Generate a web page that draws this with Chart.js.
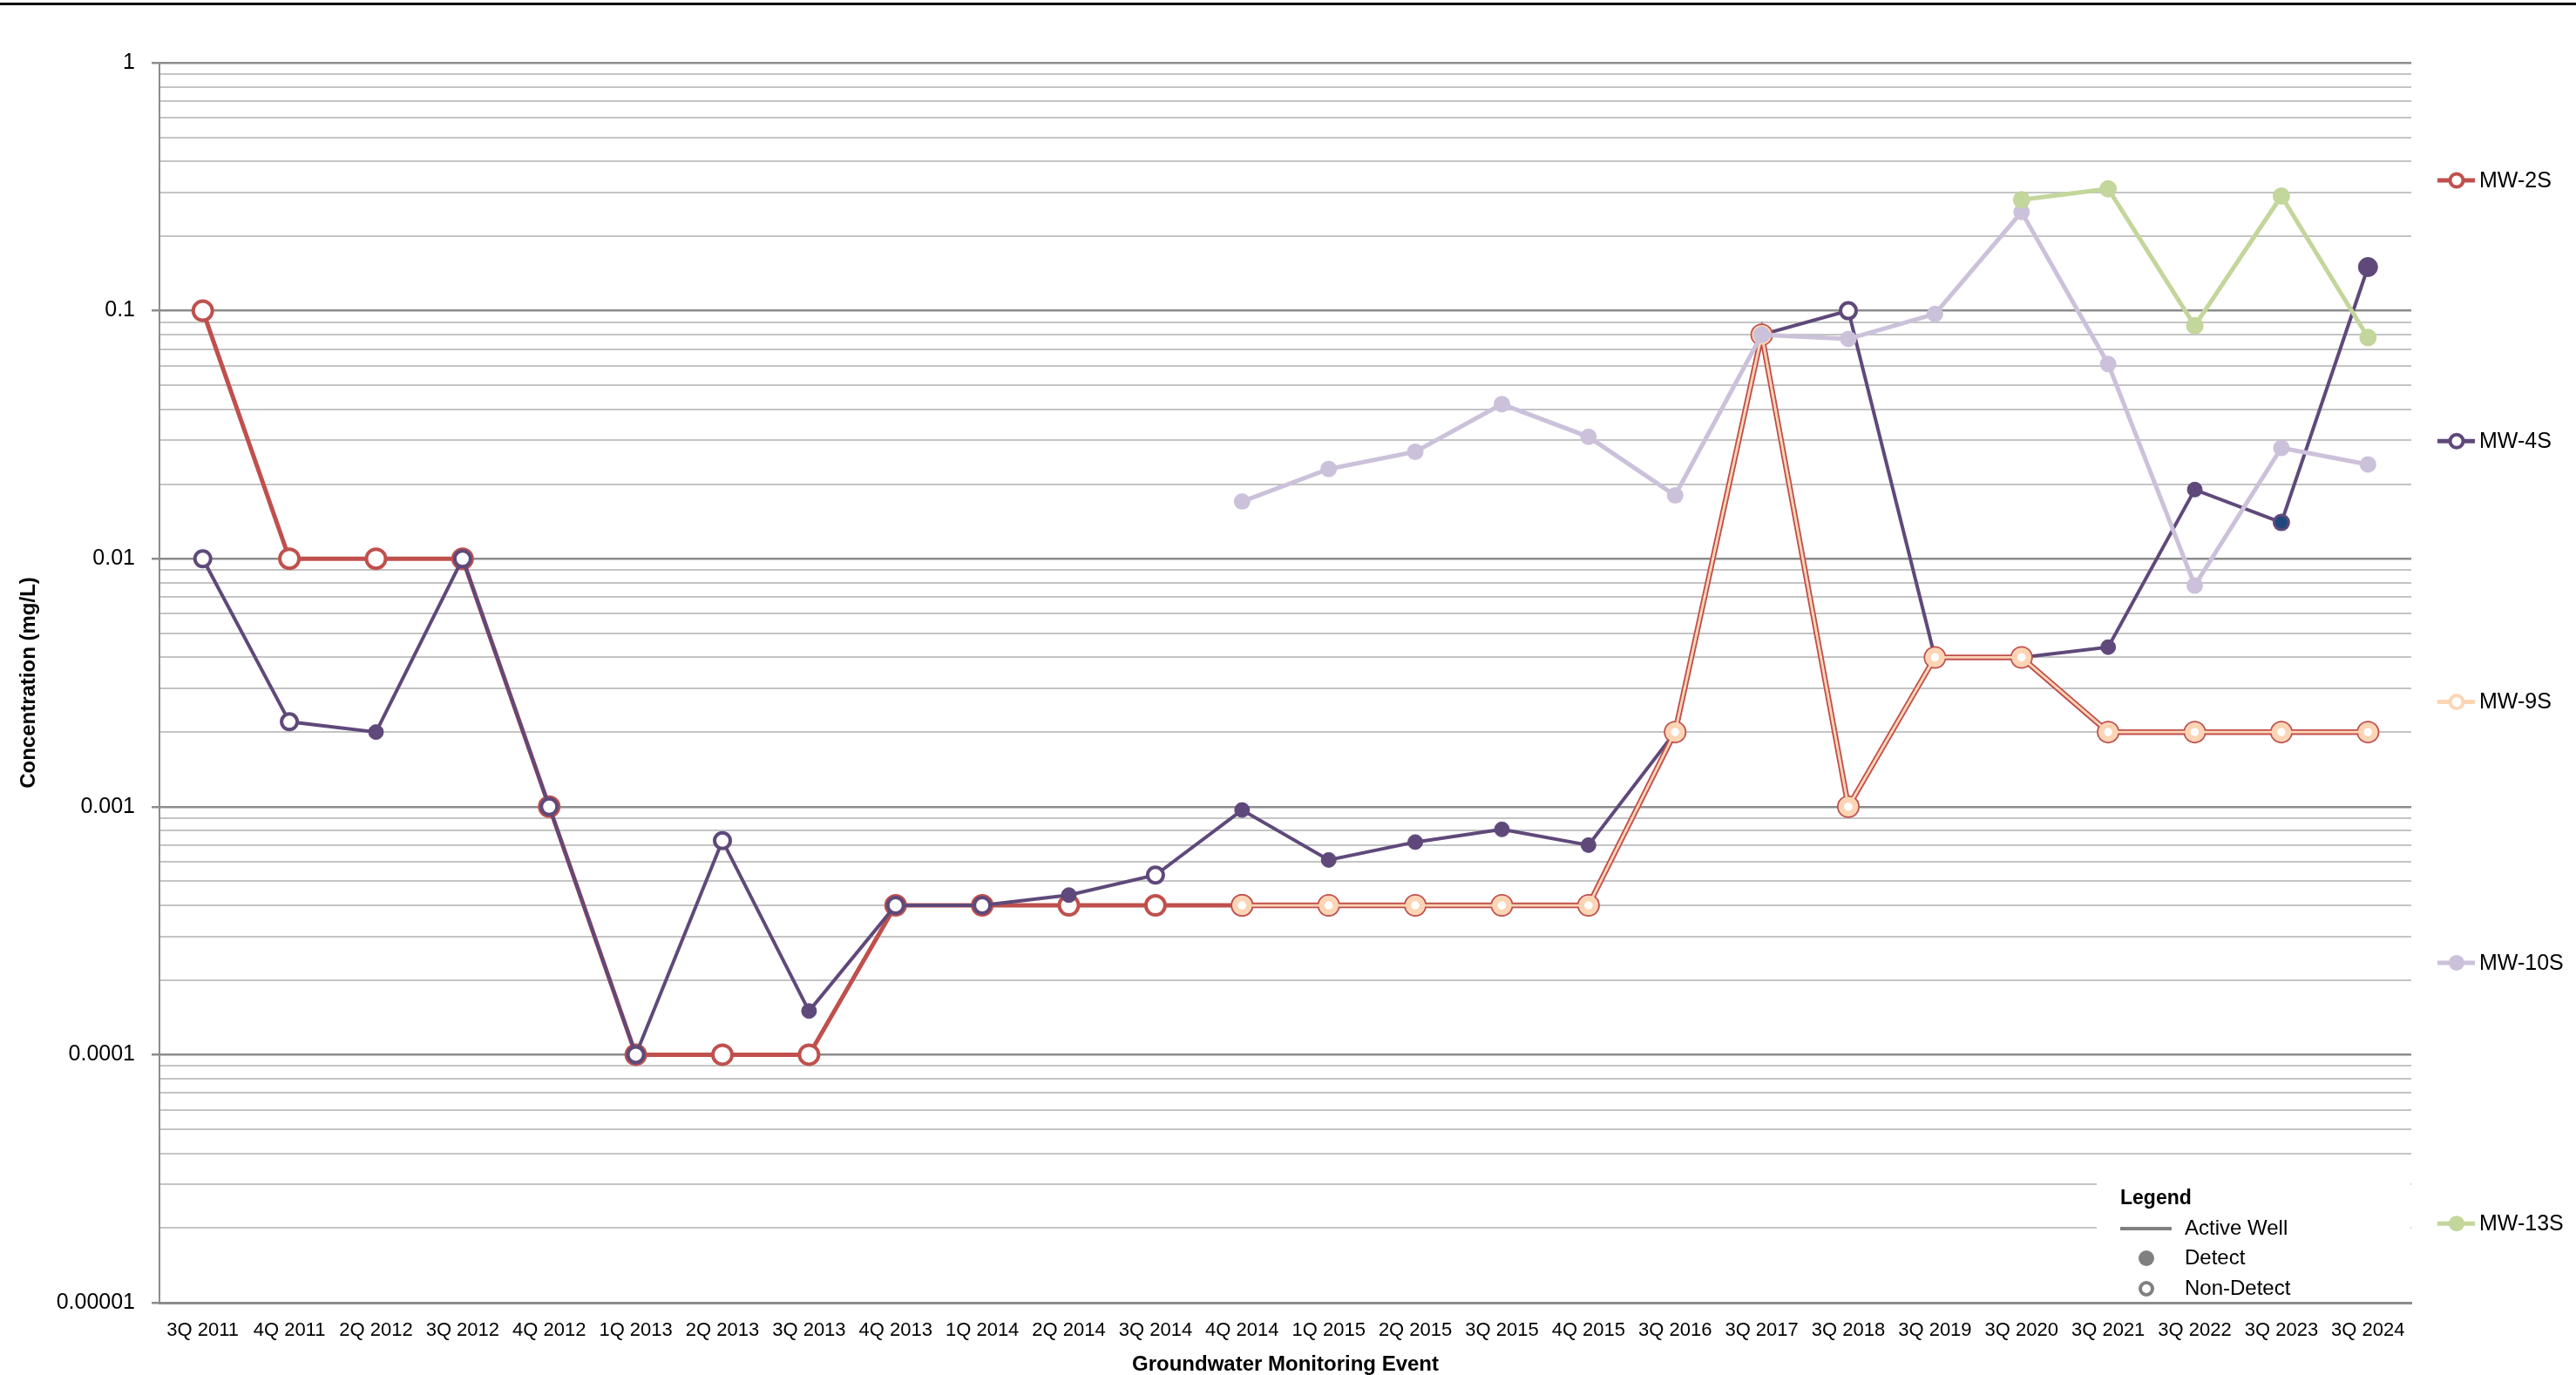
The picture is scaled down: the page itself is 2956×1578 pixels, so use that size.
<!DOCTYPE html>
<html><head><meta charset="utf-8">
<script src="https://cdn.jsdelivr.net/npm/chart.js@4"></script>
<style>html,body{margin:0;padding:0;background:#fff;overflow:hidden}#wrap{width:2956px;height:1578px}</style>
</head><body><div id="wrap"><canvas id="c" width="2956" height="1578"></canvas></div>
<script>
const categories = ['3Q 2011','4Q 2011','2Q 2012','3Q 2012','4Q 2012','1Q 2013','2Q 2013','3Q 2013','4Q 2013','1Q 2014','2Q 2014','3Q 2014','4Q 2014','1Q 2015','2Q 2015','3Q 2015','4Q 2015','3Q 2016','3Q 2017','3Q 2018','3Q 2019','3Q 2020','3Q 2021','3Q 2022','3Q 2023','3Q 2024'];
const seriesNames = ['MW-2S','MW-4S','MW-9S','MW-10S','MW-13S'];
const mw2s = [0.1,0.01,0.01,0.01,0.001,0.0001,0.0001,0.0001,0.0004,0.0004,0.0004,0.0004,0.0004,null,null,null,null,null,null,null,null,null,null,null,null,null];
const mw2sDetect = [0,0,0,0,0,0,0,0,0,0,0,0,0,0,0,0,0,0,0,0,0,0,0,0,0,0];
const mw4s = [0.01,0.0022,0.002,0.01,0.001,0.0001,0.00073,0.00015,0.0004,0.0004,0.00044,0.00053,0.00097,0.00061,0.00072,0.00081,0.0007,0.002,0.08,0.1,0.004,0.004,0.0044,0.019,0.014,0.15];
const mw4sDetect = [0,0,1,0,0,0,0,1,0,0,1,0,1,1,1,1,1,0,0,0,0,0,1,1,1,1];
const mw9s = [null,null,null,null,null,null,null,null,null,null,null,null,0.0004,0.0004,0.0004,0.0004,0.0004,0.002,0.08,0.001,0.004,0.004,0.002,0.002,0.002,0.002];
const mw9sDetect = [0,0,0,0,0,0,0,0,0,0,0,0,0,0,0,0,0,0,0,0,0,0,0,0,0,0];
const mw10s = [null,null,null,null,null,null,null,null,null,null,null,null,0.017,0.023,0.027,0.042,0.031,0.018,0.08,0.077,0.097,0.25,0.061,0.0078,0.028,0.024];
const mw13s = [null,null,null,null,null,null,null,null,null,null,null,null,null,null,null,null,null,null,null,null,null,0.28,0.31,0.087,0.29,0.078];
const yDecades = [0.00001,0.0001,0.001,0.01,0.1,1];
const yTickLabels = ['0.00001','0.0001','0.001','0.01','0.1','1'];
const legendItems = ['Active Well','Detect','Non-Detect'];
const legendTitle = 'Legend';
const xTitle = 'Groundwater Monitoring Event';
const yTitle = 'Concentration (mg/L)';

const RED='#C0504D', PURPLE='#5F497A', PEACH='#FCD5B5', LAV='#CCC1DA', GREEN='#C3D69B', NAVY='#1F497D', GREY='#808080';
const FONT='"Liberation Sans", Arial, sans-serif';

const hollowFill = (flags, col) => flags.map(f => f ? col : '#ffffff');

const decoPlugin = {
  id:'deco',
  beforeDraw(chart){
    const c=chart.ctx; c.save();
    c.fillStyle='#fff'; c.fillRect(0,0,chart.width,chart.height);
    c.fillStyle='#000'; c.fillRect(0,3,chart.width,3);
    c.restore();
  },
  beforeDatasetsDraw(chart){
    const c=chart.ctx, a=chart.chartArea; c.save();
    const L=a.right-361, T=a.bottom-157;
    c.fillStyle='#fff'; c.fillRect(L,T,a.right-L-1,a.bottom-3-T);
    c.fillStyle='#000'; c.textBaseline='middle'; c.textAlign='left';
    c.font='bold 23px '+FONT; c.fillText(legendTitle,L+27,T+38);
    c.font='24px '+FONT;
    c.strokeStyle=GREY; c.lineWidth=4; c.beginPath(); c.moveTo(L+27,T+72); c.lineTo(L+86,T+72); c.stroke();
    c.fillText(legendItems[0],L+101,T+72);
    c.fillStyle=GREY; c.beginPath(); c.arc(L+57,T+106,9,0,Math.PI*2); c.fill();
    c.fillStyle='#000'; c.fillText(legendItems[1],L+101,T+106);
    c.strokeStyle=GREY; c.lineWidth=4; c.fillStyle='#fff'; c.beginPath(); c.arc(L+57,T+141,7,0,Math.PI*2); c.fill(); c.stroke();
    c.fillStyle='#000'; c.fillText(legendItems[2],L+101,T+141);
    c.restore();
  },
  afterDraw(chart){
    const c=chart.ctx; c.save();
    const styles=[
      {line:RED, fill:'#fff', stroke:RED, bw:4},
      {line:PURPLE, fill:'#fff', stroke:PURPLE, bw:4},
      {line:PEACH, fill:'#fff', stroke:PEACH, bw:4},
      {line:LAV, fill:LAV, stroke:LAV, bw:0},
      {line:GREEN, fill:GREEN, stroke:GREEN, bw:0}
    ];
    c.font='25px '+FONT; c.textBaseline='middle'; c.textAlign='left';
    seriesNames.forEach((n,i)=>{
      const y=207+i*299.3, s=styles[i];
      c.strokeStyle=s.line; c.lineWidth=5; c.beginPath(); c.moveTo(2797,y); c.lineTo(2840,y); c.stroke();
      c.beginPath(); c.arc(2819,y, s.bw? 7.5:9,0,Math.PI*2); c.fillStyle=s.fill; c.fill();
      if(s.bw){c.lineWidth=s.bw; c.strokeStyle=s.stroke; c.stroke();}
      c.fillStyle='#000'; c.fillText(n,2845,y+1);
    });
    c.restore();
  }
};

const isDecade = v => yDecades.some(d => Math.abs(Math.log10(v)-Math.log10(d))<1e-6);

new Chart(document.getElementById('c'), {
  type:'line',
  data:{
    labels:categories,
    datasets:[
      {label:seriesNames[0], data:mw2s, borderColor:RED, borderWidth:5, order:10,
       pointRadius:11, pointBorderWidth:4, pointBorderColor:RED, pointBackgroundColor:hollowFill(mw2sDetect,RED)},
      {label:seriesNames[1], data:mw4s, borderColor:PURPLE, borderWidth:4, order:9,
       pointRadius:mw4s.map((v,i)=> i===25 ? 11 : (mw4sDetect[i]?8.5:9)),
       pointBorderWidth:mw4s.map((v,i)=> i===24 ? 3 : (mw4sDetect[i]?1:4)),
       pointBorderColor:PURPLE,
       pointBackgroundColor:mw4s.map((v,i)=> i===24 ? NAVY : (mw4sDetect[i]?PURPLE:'#ffffff'))},
      {label:seriesNames[2]+' outline', data:mw9s, borderColor:RED, borderWidth:6.5, order:8,
       pointRadius:13, pointBorderWidth:0, pointBackgroundColor:RED},
      {label:seriesNames[2], data:mw9s, borderColor:PEACH, borderWidth:2.8, order:7,
       pointRadius:8, pointBorderWidth:6.5, pointBorderColor:PEACH, pointBackgroundColor:hollowFill(mw9sDetect,PEACH)},
      {label:seriesNames[3], data:mw10s, borderColor:LAV, borderWidth:5, order:6,
       pointRadius:9.5, pointBorderWidth:0, pointBackgroundColor:LAV},
      {label:seriesNames[4], data:mw13s, borderColor:GREEN, borderWidth:5, order:5,
       pointRadius:10, pointBorderWidth:0, pointBackgroundColor:GREEN}
    ]
  },
  options:{
    responsive:false, animation:false, devicePixelRatio:1,
    layout:{padding:{top:72,right:189,left:0,bottom:0}},
    plugins:{legend:{display:false}, tooltip:{enabled:false}},
    elements:{line:{tension:0}},
    scales:{
      x:{type:'category', offset:true,
         grid:{display:false, drawTicks:false},
         border:{display:true, color:'#8c8c8c', width:3},
         ticks:{autoSkip:false, maxRotation:0, minRotation:0, padding:19, color:'#000', font:{family:FONT, size:22}},
         title:{display:true, text:xTitle, color:'#000', font:{family:FONT, size:24, weight:'bold', lineHeight:1}, padding:{top:0,bottom:0}},
         afterFit(s){ s.height=83; }
      },
      y:{type:'logarithmic', min:0.00001, max:1,
         afterBuildTicks(s){
           const t=[];
           for(let k=0;k<yDecades.length;k++){
             const d=yDecades[k];
             if(k===yDecades.length-1){ t.push({value:d, major:true}); break; }
             for(let m=1;m<=9;m++) t.push({value:d*m, major:m===1});
           }
           s.ticks=t;
         },
         grid:{drawTicks:true, tickLength:9,
           color:ctx=> (ctx.tick && isDecade(ctx.tick.value)) ? '#8c8c8c' : '#c4c4c4',
           tickColor:ctx=> (ctx.tick && isDecade(ctx.tick.value)) ? '#8c8c8c' : 'rgba(0,0,0,0)',
           lineWidth:ctx=> (ctx.tick && isDecade(ctx.tick.value)) ? 2.5 : 2},
         border:{display:true, color:'#8c8c8c', width:2},
         ticks:{autoSkip:false, padding:19, color:'#000', font:{family:FONT, size:25},
           callback:(v)=>{ const i=yDecades.findIndex(d=>Math.abs(Math.log10(v)-Math.log10(d))<1e-6); return i>=0?yTickLabels[i]:''; }},
         title:{display:true, text:yTitle, color:'#000', font:{family:FONT, size:24, weight:'bold'}, padding:{top:19,bottom:0}},
         afterFit(s){ s.width=183; }
      }
    }
  },
  plugins:[decoPlugin]
});
</script></body></html>
